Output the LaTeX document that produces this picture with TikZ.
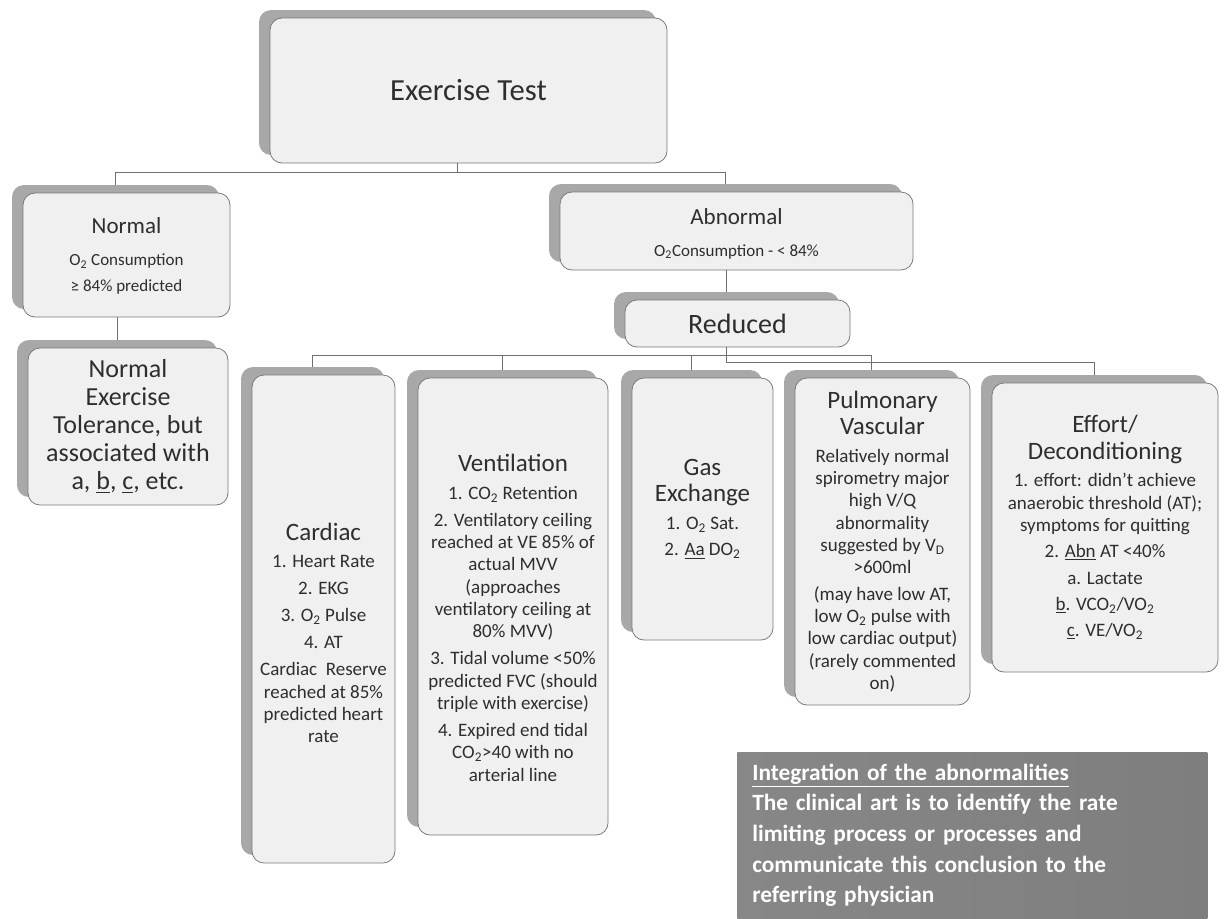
\documentclass[tikz,border=0pt]{standalone}
\usepackage{fontspec}
\setmainfont{Carlito}
\definecolor{boxfill}{HTML}{F0F0F0}
\definecolor{edgegray}{HTML}{7A7A7A}
\definecolor{shadowgray}{HTML}{A8A8A8}
\definecolor{textgray}{HTML}{2E2E2E}
\definecolor{linegray}{HTML}{707070}
\definecolor{intleft}{HTML}{878787}
\definecolor{intright}{HTML}{7E7E7E}
\newcommand\fET{\fontsize{23}{27}\selectfont}
\newcommand\fRed{\fontsize{21}{25}\selectfont}
\newcommand\fTit{\fontsize{17.25}{20}\selectfont}
\newcommand\fSub{\fontsize{12.75}{19.5}\selectfont}
\newcommand\fNET{\fontsize{19.5}{21}\selectfont}
\newcommand\fCT{\fontsize{18.75}{20}\selectfont}
\newcommand\fCI{\fontsize{14.25}{16.75}\selectfont}
\newcommand\fInt{\bfseries\fontsize{17.5}{23}\selectfont}
\tikzset{
  shbox/.style={fill=shadowgray, draw=none, rounded corners=9pt, inner sep=0pt},
  frbox/.style={fill=boxfill, draw=edgegray, line width=0.6pt, rounded corners=9pt,
    inner sep=0pt, text=textgray, align=center},
  conn/.style={draw=linegray, line width=0.6pt},
  intbox/.style={left color=intleft, right color=intright, draw=none, text=white, align=left}
}
\newcommand\mkbox[7]{%
  \pgfmathsetmacro\cx{(#2+#4)/2}%
  \pgfmathsetmacro\cy{(#3+#5)/2}%
  \pgfmathsetmacro\ww{(#4-#2)*0.75}%
  \pgfmathsetmacro\hh{(#5-#3)*0.75}%
  \node[shbox, minimum width=\ww pt, minimum height=\hh pt] (#1s) at (\cx-11,\cy-8) {};
  \node[frbox, minimum width=\ww pt, minimum height=\hh pt, #6] (#1) at (\cx,\cy) {#7};
}
\begin{document}
\begin{tikzpicture}[x=0.75pt,y=-0.75pt]
\fill[white] (0,0) rectangle (1227,918);
\useasboundingbox (0,0) rectangle (1227,918);

\mkbox{et}{270}{18}{667}{163}{font=\fET}{Exercise Test}
\mkbox{n}{23}{193}{230}{317}{font=\fSub}{\rule{0pt}{14pt}{\fTit Normal}\\[4.5pt] O\textsubscript{2} Consumption\\ ≥ 84\% predicted}
\mkbox{net}{28}{348}{228}{505}{font=\fNET}{Normal\\ Exercise\\ Tolerance, but\\ associated with\\ a, \underline{b}, \underline{c}, etc.}
\mkbox{ab}{560}{192}{913}{270}{font=\fSub}{\rule{0pt}{16pt}{\fTit Abnormal}\\[4.5pt] O\textsubscript{2}Consumption - < 84\%}
\mkbox{red}{625}{300}{850}{347}{font=\fRed}{Reduced}
\mkbox{card}{252}{375}{395}{863}{font=\fCI}{\rule{0pt}{34pt}{\fCT Cardiac}\\[4pt] 1. Heart Rate\\[3.5pt] 2. EKG\\[3.5pt] 3. O\textsubscript{2} Pulse\\[3.5pt] 4. AT\\[3.5pt] Cardiac\ \ Reserve\\ reached at 85\%\\ predicted heart\\ rate}
\mkbox{vent}{418}{378}{608}{835}{font=\fCI}{\rule{0pt}{30pt}{\fCT Ventilation}\\[4pt] 1. CO\textsubscript{2} Retention\\[3.5pt] 2. Ventilatory ceiling\\ reached at VE 85\% of\\ actual MVV\\ (approaches\\ ventilatory ceiling at\\ 80\% MVV)\\[3.5pt] 3. Tidal volume <50\%\\ predicted FVC (should\\ triple with exercise)\\[3.5pt] 4. Expired end tidal\\ CO\textsubscript{2}>40 with no\\ arterial line}
\mkbox{gas}{632}{378}{773}{640}{font=\fCI}{{\fCT Gas}\\[3pt] {\fCT Exchange}\\[4pt] 1. O\textsubscript{2} Sat.\\[3pt] 2. \underline{Aa} DO\textsubscript{2}}
\mkbox{pulm}{795}{378}{970}{705}{font=\fCI}{{\fCT Pulmonary}\\[3pt] {\fCT Vascular}\\[4pt] Relatively normal\\ spirometry major\\ high V/Q\\ abnormality\\ suggested by V\textsubscript{D}\\ >600ml\\[3pt] (may have low AT,\\ low O\textsubscript{2} pulse with\\ low cardiac output)\\ (rarely commented\\ on)}
\mkbox{eff}{992}{383}{1218}{672}{font=\fCI}{{\fCT Effort/}\\[3pt] {\fCT Deconditioning}\\[4pt] 1. effort: didn’t achieve\\ anaerobic threshold (AT);\\ symptoms for quitting\\[3pt] 2. \underline{Abn} AT <40\%\\[3pt] a. Lactate\\[3pt] \underline{b}. VCO\textsubscript{2}/VO\textsubscript{2}\\[3pt] \underline{c}. VE/VO\textsubscript{2}}

\node[intbox, anchor=north west, minimum width=352.5pt, minimum height=124.5pt,
  text width=330pt, inner xsep=11pt, inner ysep=0pt, font=\fInt] (integ) at (737,752)
  {\underline{Integration of the abnormalities}\\ The clinical art is to identify the rate\\ limiting process or processes and\\ communicate this conclusion to the\\ referring physician};

% connectors
\coordinate (r1) at (0,172);
\coordinate (r2) at (0,355);
\coordinate (r3) at (0,362);
\draw[conn] (ets.south |- et.south) -- (ets.south |- r1) -- (ns.north |- r1) -- (ns.north);
\draw[conn] (ets.south |- r1) -- (abs.north |- r1) -- (abs.north);
\draw[conn] (nets.north |- n.south) -- (nets.north);
\draw[conn] (reds.north |- ab.south) -- (reds.north);
\draw[conn] (reds.south |- red.south) -- (reds.south |- r3) -- (effs.north |- r3) -- (effs.north);
\draw[conn] (cards.north |- r2) -- (pulms.north |- r2);
\foreach \s in {cards,vents,gass,pulms}{\draw[conn] (\s.north |- r2) -- (\s.north);}
\end{tikzpicture}
\end{document}
